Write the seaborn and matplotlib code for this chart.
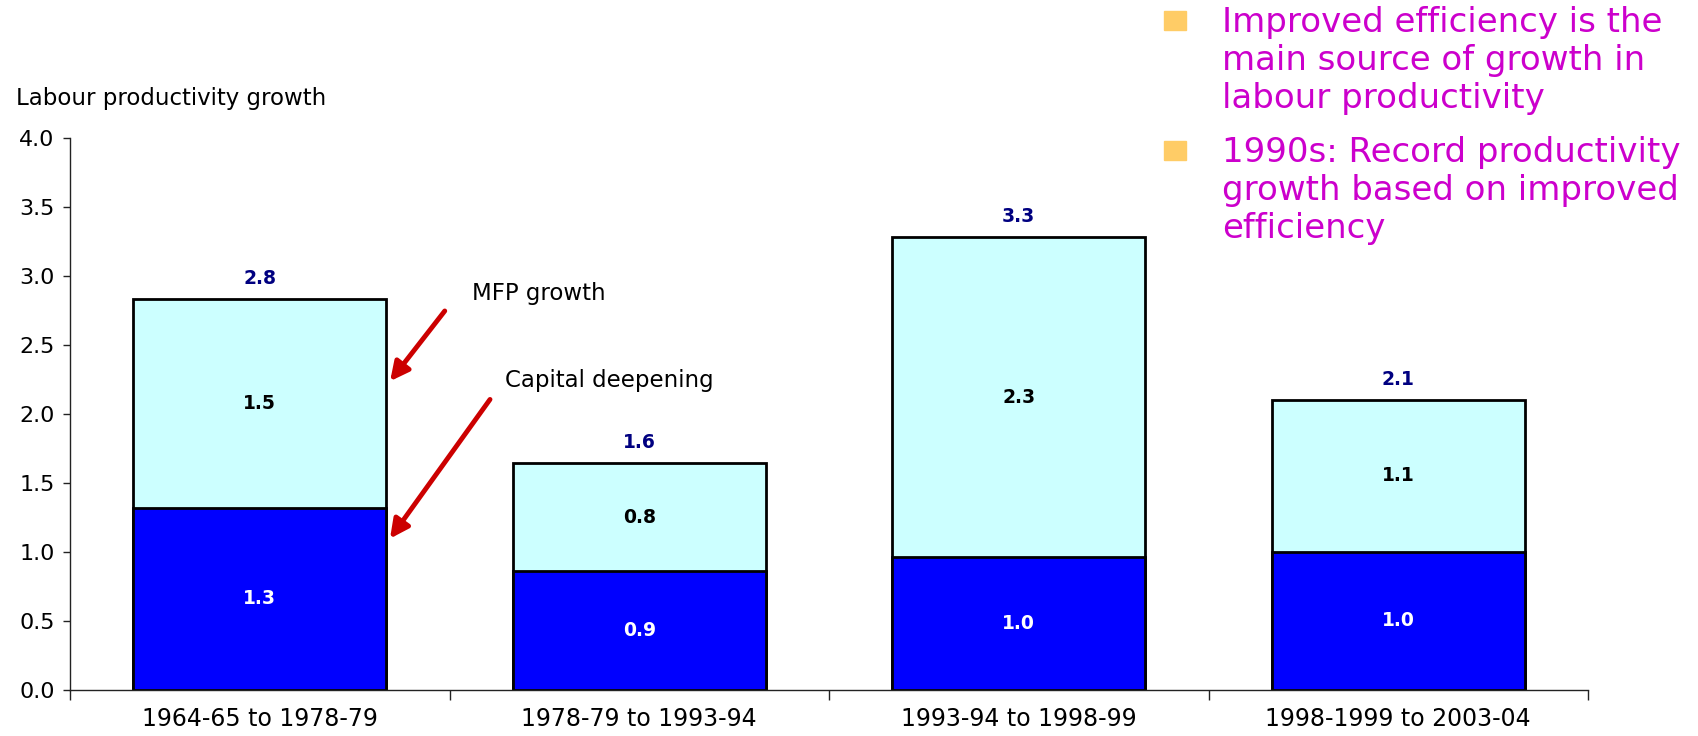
import numpy as np
import pandas as pd
import matplotlib
matplotlib.use('Agg')
import matplotlib.pyplot as plt
import matplotlib.patches as mpatches
import seaborn as sns

# data
periods = ['1964-65 to 1978-79', '1978-79 to 1993-94', '1993-94 to 1998-99', '1998-1999 to 2003-04']
capital_deepening = [1.32, 0.86, 0.96, 1.00]
mfp_growth = [1.51, 0.78, 2.32, 1.10]
y_ticks = [0.0, 0.5, 1.0, 1.5, 2.0, 2.5, 3.0, 3.5, 4.0]

df = pd.DataFrame({'period': periods, 'capital': capital_deepening, 'mfp': mfp_growth})
df['total'] = df['capital'] + df['mfp']

sns.set_style('ticks')
plt.rcParams['font.family'] = ['DejaVu Sans']
plt.rcParams['text.color'] = 'black'
plt.rcParams['xtick.labelcolor'] = 'black'
plt.rcParams['ytick.labelcolor'] = 'black'

fig = plt.figure(figsize=(16.98, 7.36), dpi=100)
ax = fig.add_axes([70 / 1698, 46 / 736, 1518 / 1698, 552.5 / 736])

bar_w = 0.667
sns.barplot(data=df, x='period', y='total', color='#CCFFFF', saturation=1, width=bar_w,
            edgecolor='black', linewidth=2, errorbar=None, ax=ax)
sns.barplot(data=df, x='period', y='capital', color='#0000FF', saturation=1, width=bar_w,
            edgecolor='black', linewidth=2, errorbar=None, ax=ax)

# value labels
for i, row in df.iterrows():
    ax.text(i, row['capital'] / 2, f"{row['capital']:.1f}", ha='center', va='center',
            color='white', fontsize=13.5, fontweight='bold')
    ax.text(i, row['capital'] + row['mfp'] / 2, f"{row['mfp']:.1f}", ha='center', va='center',
            color='black', fontsize=13.5, fontweight='bold')
    ax.annotate(f"{row['total']:.1f}", (i, row['total']), xytext=(0, 15), textcoords='offset points',
                ha='center', va='center', color='#000080', fontsize=13.5, fontweight='bold')

ax.set_xlim(-0.5, 3.5)
ax.set_ylim(0, 4)
ax.set_yticks(y_ticks)
ax.set_yticklabels([f'{v:.1f}' for v in y_ticks])
ax.set_xticks(np.arange(-0.5, 4, 1), minor=True)
ax.tick_params(axis='x', which='major', length=0, pad=12, labelsize=17, labelcolor='black')
ax.tick_params(axis='x', which='minor', length=7, width=1, color='#222222')
ax.tick_params(axis='y', length=5, width=1, color='#222222', labelsize=16, pad=6, labelcolor='black')
ax.set_xlabel('')
ax.set_ylabel('')
sns.despine(ax=ax)
for s in ['left', 'bottom']:
    ax.spines[s].set_color('#222222')
    ax.spines[s].set_linewidth(1)

fig.text(16 / 1698, 1 - 99 / 736, 'Labour productivity growth', fontsize=16.5, va='center', ha='left')

# arrows + annotation labels
red = '#CC0000'
ax.text(0.558, 2.87, 'MFP growth', fontsize=16.5, va='center', ha='left')
ax.text(0.645, 2.24, 'Capital deepening', fontsize=16.5, va='center', ha='left')
ax.annotate('', xy=(0.339, 2.22), xytext=(0.492, 2.76),
            arrowprops=dict(arrowstyle='-|>', color=red, lw=3.5, mutation_scale=28))
ax.annotate('', xy=(0.339, 1.08), xytext=(0.611, 2.12),
            arrowprops=dict(arrowstyle='-|>', color=red, lw=3.5, mutation_scale=28))

# bullet points
magenta = '#CC00CC'
for top in [11, 141]:
    fig.add_artist(mpatches.Rectangle((1164 / 1698, 1 - (top + 19) / 736), 22 / 1698, 19 / 736,
                                      transform=fig.transFigure, color='#FFCC66'))
fig.text(1222 / 1698, 1 - 6 / 736,
         'Improved efficiency is the\nmain source of growth in\nlabour productivity',
         fontsize=24.5, color=magenta, va='top', ha='left', linespacing=1.2)
fig.text(1222 / 1698, 1 - 136 / 736,
         '1990s: Record productivity\ngrowth based on improved\nefficiency',
         fontsize=24.5, color=magenta, va='top', ha='left', linespacing=1.2)

fig.savefig('out.png', dpi=100)
